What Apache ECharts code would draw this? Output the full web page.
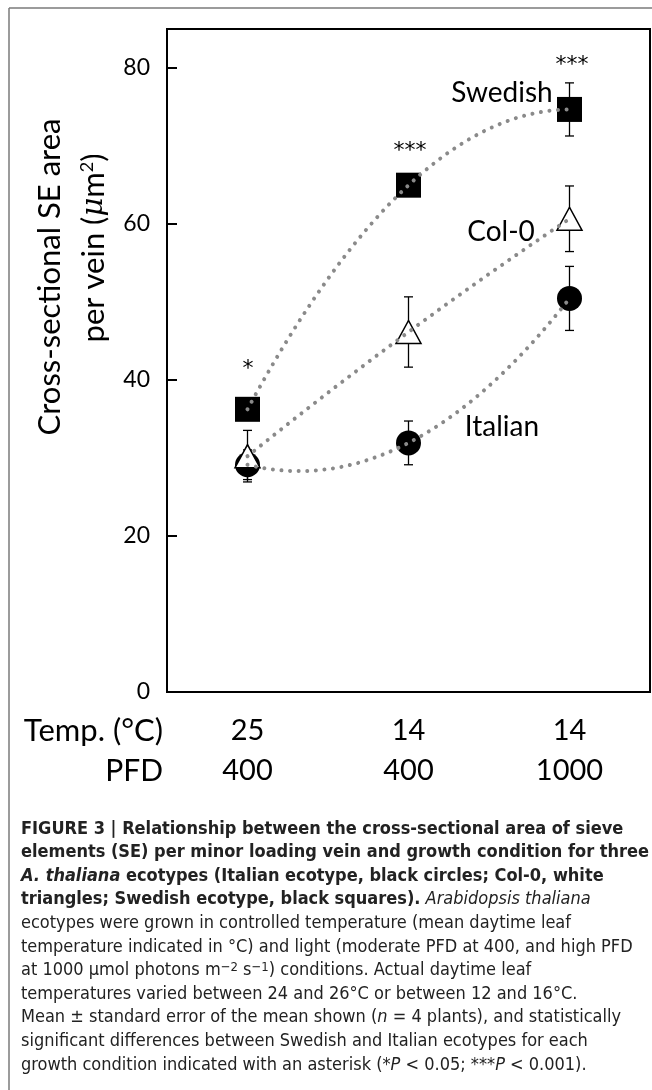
<!DOCTYPE html>
<html><head><meta charset="utf-8">
<script src="https://cdn.jsdelivr.net/npm/echarts@6/dist/echarts.min.js"></script>
<style>html,body{margin:0;padding:0;background:#fff}#c{width:652px;height:1090px}</style>
</head><body><div id="c"></div>
<script>
// ---- data ----
const temps = ['25', '14', '14'];
const pfds = ['400', '400', '1000'];
const italian = [29.1, 31.9, 50.4];
const italianErr = [1.9, 2.8, 4.1];
const col0 = [30.2, 46.1, 60.6];
const col0Err = [3.3, 4.5, 4.2];
const swedish = [36.2, 64.9, 74.6];
const swedishErr = [1.0, 1.0, 3.4];
const sigMarks = ['*', '***', '***'];
const yTicks = [0, 20, 40, 60, 80];

const FONT = 'Lato, "Open Sans", sans-serif';
const CAPFONT = '"Liberation Sans Narrow", "DejaVu Sans Condensed", "Liberation Sans", sans-serif';
const STARFONT = '"DejaVu Sans", sans-serif';

const chart = echarts.init(document.getElementById('c'), null, {renderer: 'canvas'});

function errSeries(vals, errs) {
  return {
    type: 'custom', xAxisIndex: 0, yAxisIndex: 0, z: 1,
    data: vals.map((v, i) => [i, v, errs[i]]),
    renderItem: function (params, api) {
      const x = api.value(0), v = api.value(1), e = api.value(2);
      const top = api.coord([x, v + e]);
      const bot = api.coord([x, v - e]);
      const st = {stroke: '#000', lineWidth: 1.3};
      return {type: 'group', children: [
        {type: 'line', shape: {x1: top[0], y1: top[1], x2: bot[0], y2: bot[1]}, style: st},
        {type: 'line', shape: {x1: top[0] - 4.5, y1: top[1], x2: top[0] + 4.5, y2: top[1]}, style: st},
        {type: 'line', shape: {x1: bot[0] - 4.5, y1: bot[1], x2: bot[0] + 4.5, y2: bot[1]}, style: st}
      ]};
    }
  };
}

// Excel-style order-2 polynomial trendline through the three means
function trendSeries(vals) {
  return {
    type: 'custom', xAxisIndex: 1, yAxisIndex: 0, z: 10, silent: true,
    data: [[0, 0]],
    renderItem: function (params, api) {
      const pts = [];
      const n = 80;
      for (let k = 0; k <= n; k++) {
        const x = 2 * k / n;
        const y = vals[0] * (x - 1) * (x - 2) / 2 - vals[1] * x * (x - 2) + vals[2] * x * (x - 1) / 2;
        pts.push(api.coord([x, y]));
      }
      return {type: 'polyline', shape: {points: pts},
        style: {stroke: '#8a8a8a', lineWidth: 4, lineDash: [0.01, 8.6], lineCap: 'round', fill: null}};
    }
  };
}

const captionLines = [
  '{b|FIGURE 3 | Relationship between the cross-sectional area of sieve}',
  '{b|elements (SE) per minor loading vein and growth condition for three}',
  '{bi|A. thaliana}{b| ecotypes (Italian ecotype, black circles; Col-0, white}',
  '{b|triangles; Swedish ecotype, black squares).}{i| Arabidopsis thaliana}',
  'ecotypes were grown in controlled temperature (mean daytime leaf',
  'temperature indicated in °C) and light (moderate PFD at 400, and high PFD',
  'at 1000 μmol photons m{sup|−2} s{sup|−1}) conditions. Actual daytime leaf',
  'temperatures varied between 24 and 26°C or between 12 and 16°C.',
  'Mean ± standard error of the mean shown ({i|n} = 4 plants), and statistically',
  'significant differences between Swedish and Italian ecotypes for each',
  'growth condition indicated with an asterisk (*{i|P} < 0.05; ***{i|P} < 0.001).'
];
const capRich = {
  b: {fontFamily: CAPFONT, fontWeight: 'bold', fontSize: 18, color: '#000'},
  bi: {fontFamily: CAPFONT, fontWeight: 'bold', fontStyle: 'italic', fontSize: 18, color: '#000'},
  i: {fontFamily: CAPFONT, fontStyle: 'italic', fontSize: 18, color: '#222'},
  sup: {fontFamily: CAPFONT, fontSize: 13, color: '#222', verticalAlign: 'top', padding: [0, 0, 6, 0]}
};

const graphics = [
  {type: 'line', shape: {x1: 9, y1: 8, x2: 9, y2: 1090}, style: {stroke: '#7a7a7a', lineWidth: 1.5}},
  {type: 'line', shape: {x1: 9, y1: 8, x2: 652, y2: 8}, style: {stroke: '#7a7a7a', lineWidth: 1.5}},
  {type: 'text', x: 50, y: 277, rotation: Math.PI / 2,
    style: {text: 'Cross-sectional SE area', font: '31px ' + FONT, fill: '#000', align: 'center', verticalAlign: 'middle'}},
  {type: 'text', x: 94, y: 248, rotation: Math.PI / 2,
    style: {text: 'per vein ({it|μ}m{s|2})', fontFamily: FONT, fontSize: 31, fill: '#000', align: 'center', verticalAlign: 'middle',
      rich: {it: {fontFamily: 'DejaVu Serif', fontStyle: 'italic', fontSize: 29}, s: {fontFamily: FONT, fontSize: 18, verticalAlign: 'top', padding: [0, 0, 14, 0]}}}},
  {type: 'text', x: 163, y: 731, style: {text: 'Temp. (°C)', font: '31px ' + FONT, fill: '#000', align: 'right', verticalAlign: 'middle'}},
  {type: 'text', x: 163, y: 771, style: {text: 'PFD', font: '30px ' + FONT, fill: '#000', align: 'right', verticalAlign: 'middle'}},
  {type: 'text', x: 502, y: 93, style: {text: 'Swedish', font: '28px ' + FONT, fill: '#000', align: 'center', verticalAlign: 'middle'}},
  {type: 'text', x: 501, y: 232, style: {text: 'Col-0', font: '28px ' + FONT, fill: '#000', align: 'center', verticalAlign: 'middle'}},
  {type: 'text', x: 502, y: 427, style: {text: 'Italian', font: '28px ' + FONT, fill: '#000', align: 'center', verticalAlign: 'middle'}},
  {type: 'text', x: 248, y: 369, style: {text: sigMarks[0], font: '22px ' + STARFONT, fill: '#000', align: 'center', verticalAlign: 'middle'}},
  {type: 'text', x: 410, y: 151, style: {text: sigMarks[1], font: '22px ' + STARFONT, fill: '#000', align: 'center', verticalAlign: 'middle'}},
  {type: 'text', x: 572, y: 65, style: {text: sigMarks[2], font: '22px ' + STARFONT, fill: '#000', align: 'center', verticalAlign: 'middle'}}
];
captionLines.forEach((t, k) => {
  graphics.push({type: 'text', x: 21, y: 829 + k * 23.6,
    style: {text: t, fontFamily: CAPFONT, fontSize: 18, fill: '#222', align: 'left', verticalAlign: 'middle', rich: capRich}});
});

const option = {
  animation: false,
  backgroundColor: '#fff',
  grid: {left: 167, top: 29, width: 483, height: 663, show: true, borderColor: '#000', borderWidth: 2, containLabel: false},
  xAxis: [
    {type: 'category', data: temps.map((t, i) => t + '\n' + pfds[i]), boundaryGap: true,
      axisLine: {onZero: false, lineStyle: {color: '#000', width: 2}}, axisTick: {show: false},
      axisLabel: {color: '#000', fontSize: 29, fontFamily: FONT, lineHeight: 40, margin: 19},
      splitLine: {show: false}},
    {type: 'value', min: -0.5, max: 2.5, show: false, splitLine: {show: false},
      axisLine: {show: false, onZero: false}}
  ],
  yAxis: {type: 'value', min: 0, max: 84.9, interval: 20,
    axisLine: {show: true, onZero: false, lineStyle: {color: '#000', width: 2}},
    axisTick: {show: true, inside: true, length: 10, lineStyle: {color: '#000', width: 2}},
    axisLabel: {color: '#000', fontSize: 23, fontFamily: FONT, margin: 17,
      formatter: v => (yTicks.indexOf(v) >= 0 ? String(v) : '')},
    splitLine: {show: false}},
  series: [
    errSeries(italian, italianErr),
    errSeries(col0, col0Err),
    errSeries(swedish, swedishErr),
    {name: 'Italian', type: 'scatter', xAxisIndex: 0, z: 2, data: italian, symbol: 'circle', symbolSize: 25,
      itemStyle: {color: '#000', opacity: 1}},
    {name: 'Col-0', type: 'scatter', xAxisIndex: 0, z: 3, data: col0, symbol: 'triangle', symbolSize: [25, 23],
      itemStyle: {color: '#fff', borderColor: '#000', borderWidth: 1.5, opacity: 1}},
    {name: 'Swedish', type: 'scatter', xAxisIndex: 0, z: 4, data: swedish, symbol: 'rect', symbolSize: 25,
      itemStyle: {color: '#000', opacity: 1}},
    trendSeries(italian),
    trendSeries(col0),
    trendSeries(swedish)
  ],
  graphic: graphics
};
chart.setOption(option);
</script>
</body></html>
